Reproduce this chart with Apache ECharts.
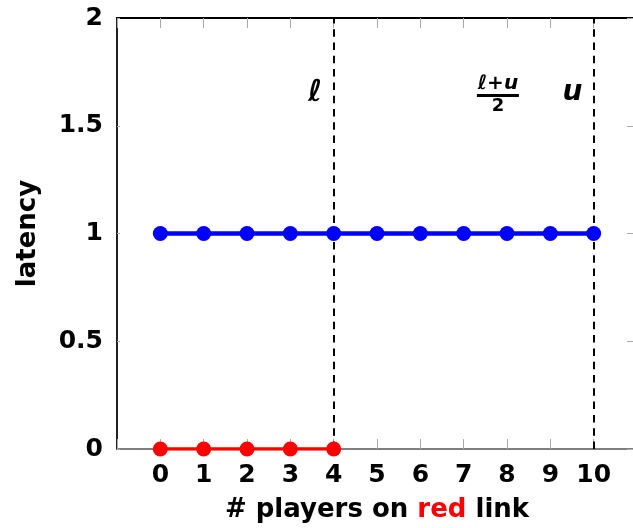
<!DOCTYPE html>
<html>
<head>
<meta charset="utf-8">
<script src="https://cdn.jsdelivr.net/npm/echarts@6/dist/echarts.min.js"></script>
<style>
  html, body { margin: 0; padding: 0; background: #fff; }
  #chart { width: 633px; height: 528px; }
</style>
</head>
<body>
<div id="chart"></div>
<script>
// data
const players     = [0, 1, 2, 3, 4, 5, 6, 7, 8, 9, 10]
const blueLatency = [1, 1, 1, 1, 1, 1, 1, 1, 1, 1, 1]
const redPlayers  = [0, 1, 2, 3, 4]
const redLatency  = [0, 0, 0, 0, 0]
const thresholds  = [4, 10]           // l and u
const yTicks      = [0, 0.5, 1, 1.5, 2]

// annotation anchors in data units: [x, y]
const notes = {
  ell : [3.57, 1.65],
  mid : [7.79, 1.64],
  u   : [9.51, 1.655],
}

const chart = echarts.init(document.getElementById('chart'))
const FONT = '"DejaVu Sans", sans-serif'

const tickStyle = { show: true, inside: true, length: 10, lineStyle: { color: '#aaa', width: 1 } }

const option = {
  animation: false,
  textStyle: { fontFamily: FONT },
  grid: {
    left: 117, top: 18, bottom: 79, right: -4,
    containLabel: false,
    outerBoundsMode: 'none',
  },
  xAxis: [{
    type: 'value',
    min: -1, max: 11, interval: 1,
    position: 'bottom',
    name: '{a|# players on }{r|red}{a| link}',
    nameLocation: 'middle',
    nameGap: 48,
    nameTextStyle: {
      rich: {
        a: { fontSize: 26, fontWeight: 'bold', color: '#000', fontFamily: FONT },
        r: { fontSize: 26, fontWeight: 'bold', color: '#ff0000', fontFamily: FONT },
      }
    },
    splitLine: { show: false },
    axisLine: { show: true, onZero: false, lineStyle: { color: '#555', width: 1.5 } },
    axisTick: tickStyle,
    axisLabel: {
      fontSize: 25, fontWeight: 'bold', color: '#000', margin: 14, fontFamily: FONT,
      formatter: v => (v >= 0 && v <= 10) ? String(v) : ''
    },
  }, {
    type: 'value',
    min: -1, max: 11, interval: 1,
    position: 'top',
    splitLine: { show: false },
    axisLine: { show: true, onZero: false, lineStyle: { color: '#000', width: 2 } },
    axisTick: tickStyle,
    axisLabel: { show: false },
  }],
  yAxis: [{
    type: 'value',
    min: 0, max: 2, interval: 0.5,
    name: 'latency',
    nameLocation: 'middle',
    nameGap: 76,
    nameTextStyle: { fontSize: 26, fontWeight: 'bold', color: '#000', fontFamily: FONT },
    splitLine: { show: false },
    axisLine: { show: true, onZero: false, lineStyle: { color: '#222', width: 2 } },
    axisTick: { show: true, inside: true, length: 3, lineStyle: { color: '#aaa', width: 1 } },
    axisLabel: {
      fontSize: 25, fontWeight: 'bold', color: '#000', margin: 14, fontFamily: FONT,
      formatter: v => yTicks.includes(v) ? String(v) : ''
    },
  }, {
    type: 'value',
    min: 0, max: 2, interval: 0.5,
    position: 'right',
    splitLine: { show: false },
    axisLine: { show: false, onZero: false },
    axisTick: tickStyle,
    axisLabel: { show: false },
  }],
  series: [{
    name: 'blue',
    type: 'line',
    data: players.map((x, i) => [x, blueLatency[i]]),
    symbol: 'circle',
    symbolSize: 15,
    itemStyle: { color: '#0000ff' },
    lineStyle: { color: '#0000ff', width: 4.5 },
    z: 3,
  }, {
    name: 'red',
    type: 'line',
    data: redPlayers.map((x, i) => [x, redLatency[i]]),
    symbol: 'circle',
    symbolSize: 15,
    itemStyle: { color: '#ff0000' },
    lineStyle: { color: '#ff0000', width: 3.5 },
    z: 4,
    markLine: {
      silent: true,
      symbol: ['none', 'none'],
      label: { show: false },
      lineStyle: { color: '#000', width: 2, type: [7.5, 5.8] },
      data: thresholds.map(t => ({ xAxis: t })),
      z: 2,
    },
  }],
}

chart.setOption(option)

// math labels placed through the axes
const px = p => chart.convertToPixel({ xAxisIndex: 0, yAxisIndex: 0 }, p)
const [ex, ey] = px(notes.ell)
const [mx, my] = px(notes.mid)
const [ux, uy] = px(notes.u)

chart.setOption({
  graphic: [{
    type: 'text', x: ex, y: ey,
    style: { text: 'ℓ', font: 'italic bold 30px "DejaVu Sans", sans-serif', fill: '#000', align: 'center', verticalAlign: 'middle' }
  }, {
    type: 'text', x: mx, y: my - 12,
    style: { text: 'ℓ+u', font: 'italic bold 20px "DejaVu Sans", sans-serif', fill: '#000', align: 'center', verticalAlign: 'middle' }
  }, {
    type: 'rect', shape: { x: mx - 21, y: my - 1.5, width: 42, height: 3 },
    style: { fill: '#000' }
  }, {
    type: 'text', x: mx, y: my + 11,
    style: { text: '2', font: 'bold 18px "DejaVu Sans", sans-serif', fill: '#000', align: 'center', verticalAlign: 'middle' }
  }, {
    type: 'text', x: ux, y: uy,
    style: { text: 'u', font: 'italic bold 28px "DejaVu Sans", sans-serif', fill: '#000', align: 'center', verticalAlign: 'middle' }
  }]
})
</script>
</body>
</html>
